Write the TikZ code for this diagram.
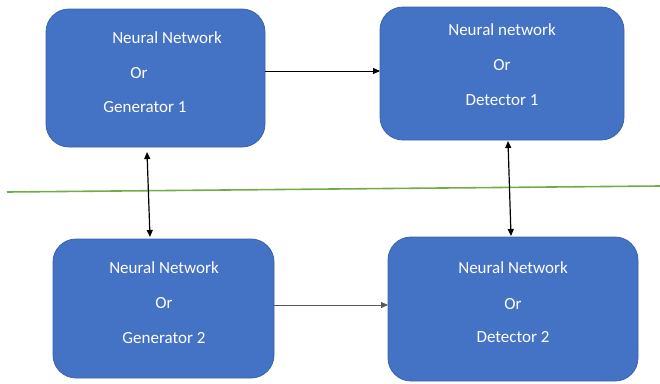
\documentclass[tikz,border=0pt]{standalone}
\usepackage{fontspec}
\setmainfont{Carlito}
\usetikzlibrary{arrows.meta}
\definecolor{boxblue}{HTML}{4472C4}
\definecolor{boxedge}{HTML}{3A63AD}
\definecolor{divider}{HTML}{70AD47}
\tikzset{
  nnbox/.style={draw=boxedge, line width=0.8pt, fill=boxblue, rounded corners=23pt},
  lbl/.style={text=white, font=\fontsize{17}{19}\selectfont, inner sep=0pt},
  link/.style={line width=0.9pt, -{Triangle[length=7pt,width=6pt]}},
  duallink/.style={line width=1.2pt, {Triangle[length=7pt,width=6pt]}-{Triangle[length=7pt,width=6pt]}}
}
\begin{document}
\begin{tikzpicture}[x=1pt,y=-1pt]
\useasboundingbox (0,0) rectangle (660,383);

% four blocks
\draw[nnbox] (46,9) rectangle (265,147);
\draw[nnbox] (380,7) rectangle (624,140);
\draw[nnbox] (53,239) rectangle (274,378);
\draw[nnbox] (388,237) rectangle (638,381);

% block anchors for connectors
\coordinate (g1r) at (265,71);
\coordinate (d1l) at (380,71);
\coordinate (g2r) at (274,305);
\coordinate (d2l) at (388,305);
\coordinate (g1b) at (147,152);
\coordinate (g2t) at (150,237);
\coordinate (d1b) at (508,141);
\coordinate (d2t) at (511,236);
\coordinate (divl) at (7,192);
\coordinate (divr) at (660,186);

% labels
\node[lbl] (g1a) at (167,38) {Neural Network};
\node[lbl] (g1b2) at (139,73) {Or};
\node[lbl] (g1c) at (145,107) {Generator 1};

\node[lbl] (d1a) at (502,30) {Neural network};
\node[lbl] (d1b2) at (502,65) {Or};
\node[lbl] (d1c) at (502,100) {Detector 1};

\node[lbl] (g2a) at (164,268) {Neural Network};
\node[lbl] (g2b2) at (164,303) {Or};
\node[lbl] (g2c) at (164,338) {Generator 2};

\node[lbl] (d2a) at (513,268) {Neural Network};
\node[lbl] (d2b2) at (513,304) {Or};
\node[lbl] (d2c) at (513,337) {Detector 2};

% divider
\draw[divider, line width=1.6pt] (divl) -- (divr);

% connectors
\draw[link] (g1r) -- (d1l);
\draw[link, draw=black!65] (g2r) -- (d2l);
\draw[duallink] (g1b) -- (g2t);
\draw[duallink] (d1b) -- (d2t);
\end{tikzpicture}
\end{document}
